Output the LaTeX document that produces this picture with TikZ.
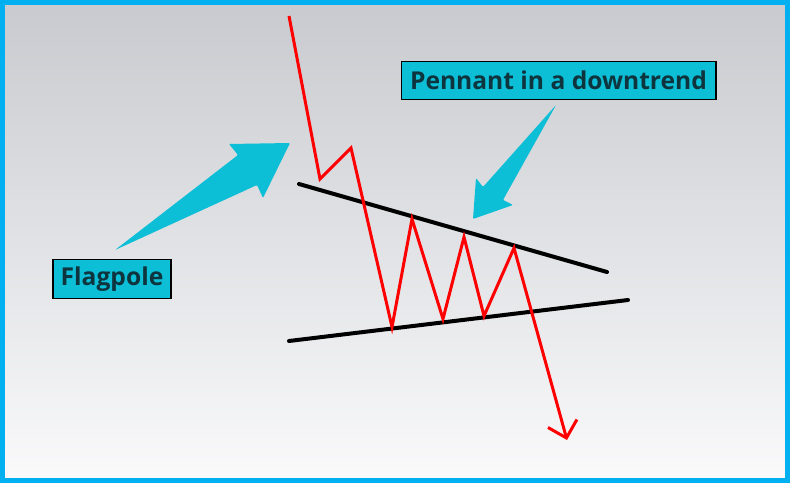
\documentclass[tikz,border=0pt]{standalone}
\usepackage{fontspec}
\setsansfont{Open Sans}
\usetikzlibrary{arrows.meta}
\definecolor{frameblue}{RGB}{0,176,240}
\definecolor{calloutcyan}{RGB}{12,190,214}
\definecolor{labelink}{RGB}{14,52,62}
\definecolor{bgtop}{RGB}{200,202,207}
\definecolor{bgbottom}{RGB}{250,250,251}
\tikzset{
	pricepath/.style={draw=red, line width=0.06cm, line join=miter,
			-{Straight Barb[length=0.3cm, width=0.6cm]}},
	trendline/.style={draw=black, line width=0.08cm, line cap=round},
	callout/.style={fill=calloutcyan, rounded corners=0.6pt},
	tag/.style={draw=black, line width=0.6pt, fill=calloutcyan, text=labelink,
			font=\sffamily\bfseries\fontsize{14}{17}\selectfont, minimum height=0.77cm, inner sep=0pt}
}

\begin{document}
\begin{tikzpicture}[x=0.02cm, y=-0.02cm]
	% background and frame
	\useasboundingbox (0,0) rectangle (790,483);
	\shade[top color=bgtop, bottom color=bgbottom] (0,0) rectangle (790,483);
	\draw[frameblue, line width=0.11cm] (2.75,2.75) rectangle (787.25,480.25);

	% pennant borders
	\coordinate (up1) at (299,184);
	\coordinate (up2) at (607,272);
	\coordinate (lo1) at (289,341);
	\coordinate (lo2) at (628,300);
	\draw[trendline] (up1) -- (up2);
	\draw[trendline] (lo1) -- (lo2);

	% price
	\coordinate (p0) at (289,16);
	\coordinate (p1) at (320,179);
	\coordinate (p2) at (351,148);
	\coordinate (p3) at (392,327);
	\coordinate (p4) at (412,219);
	\coordinate (p5) at (443,319);
	\coordinate (p6) at (464,237);
	\coordinate (p7) at (484,316);
	\coordinate (p8) at (514,248);
	\coordinate (end) at (567,440);
	\draw[pricepath] (p0) -- (p1) -- (p2) -- (p3) -- (p4) -- (p5) -- (p6) -- (p7) -- (p8) -- (end);

	% callout arrows
	\fill[callout] (115,250) -- (238,155) -- (229,144) -- (290,143) -- (263,198) -- (257,185) -- cycle;
	\fill[callout] (556,105) -- (503,200) -- (513,205) -- (473,219) -- (476,178) -- (483,187) -- cycle;

	% labels
	\node[tag, minimum width=6.3cm] (pennant) at (558.5,80.5) {Pennant in a downtrend};
	\node[tag, minimum width=2.36cm] (flagpole) at (112,279) {Flagpole};
\end{tikzpicture}
\end{document}
